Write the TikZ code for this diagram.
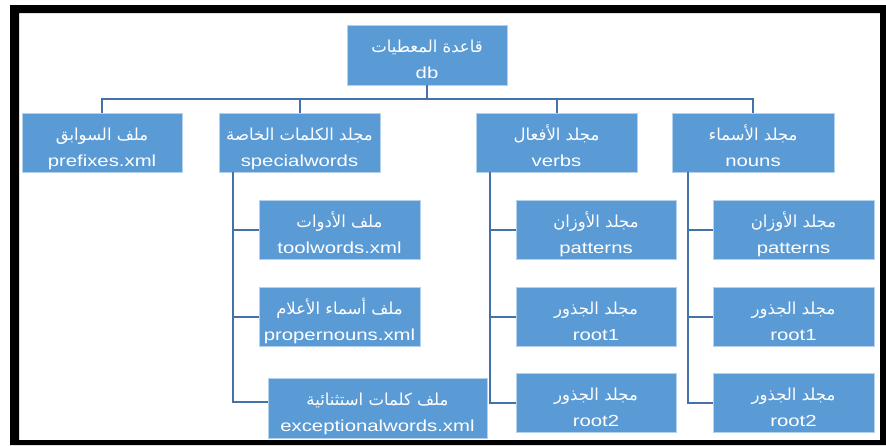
\documentclass[tikz,border=0pt]{standalone}
\usepackage{fontspec}
\setmainfont[FakeStretch=1.27]{Liberation Sans}
\newfontfamily\arfont[Script=Arabic]{DejaVu Sans}
\TeXXeTstate=1
\definecolor{boxblue}{HTML}{5B9BD5}
\definecolor{lineblue}{HTML}{4472A8}
\newcommand\bxt[2]{\rule{0pt}{27pt}{\arfont\fontsize{16.5}{26}\selectfont\beginR #1\endR}\\#2\rule[-6pt]{0pt}{6pt}}
\begin{document}
\begin{tikzpicture}[x=1pt,y=-1pt,
  box/.style={fill=boxblue, draw=white!55!boxblue, line width=0.8pt, text=white,
    align=center, inner sep=0pt, minimum width=160pt, minimum height=59pt,
    font=\fontsize{16}{26}\selectfont},
  conn/.style={draw=lineblue, line width=2pt}]
\useasboundingbox (0,0) rectangle (886,445);
\fill[white] (0,0) rectangle (886,445);
% level 0
\node[box, minimum height=60pt] (db) at (427,55) {\bxt{قاعدة المعطيات}{db}};
% level 1
\node[box] (prefixes) at (102,142.5) {\bxt{ملف السوابق}{prefixes.xml}};
\node[box, minimum width=161pt] (special) at (299.5,142.5) {\bxt{مجلد الكلمات الخاصة}{specialwords}};
\node[box, minimum width=161pt] (verbs) at (556.5,142.5) {\bxt{مجلد الأفعال}{verbs}};
\node[box, minimum width=162pt] (nouns) at (753,142.5) {\bxt{مجلد الأسماء}{nouns}};
% special words children
\node[box, minimum width=161pt] (toolwords) at (339.5,229.5) {\bxt{ملف الأدوات}{toolwords.xml}};
\node[box, minimum width=161pt] (propernouns) at (339.5,316.5) {\bxt{ملف أسماء الأعلام}{propernouns.xml}};
\node[box, minimum width=219pt, minimum height=60pt] (exceptional) at (377.5,408) {\bxt{ملف كلمات استثنائية}{exceptionalwords.xml}};
% verbs children
\node[box] (vpat) at (596,229.5) {\bxt{مجلد الأوزان}{patterns}};
\node[box] (vroot1) at (596,316.5) {\bxt{مجلد الجذور}{root1}};
\node[box] (vroot2) at (596,402.5) {\bxt{مجلد الجذور}{root2}};
% nouns children
\node[box, minimum width=161pt] (npat) at (793.5,229.5) {\bxt{مجلد الأوزان}{patterns}};
\node[box, minimum width=161pt] (nroot1) at (793.5,316.5) {\bxt{مجلد الجذور}{root1}};
\node[box, minimum width=161pt] (nroot2) at (793.5,402.5) {\bxt{مجلد الجذور}{root2}};
% top bus
\coordinate (bus) at (427,99);
\draw[conn] (db.south) -- (db.south |- bus);
\draw[conn] (prefixes.north) |- (bus) -| (nouns.north);
\draw[conn] (special.north) -- (special.north |- bus);
\draw[conn] (verbs.north) -- (verbs.north |- bus);
% spines
\draw[conn] ([xshift=14pt]special.south west) |- (toolwords.west);
\draw[conn] ([xshift=14pt]special.south west) |- (propernouns.west);
\draw[conn] ([xshift=14pt]special.south west) |- ([yshift=6pt]exceptional.west);
\draw[conn] ([xshift=14pt]verbs.south west) |- (vpat.west);
\draw[conn] ([xshift=14pt]verbs.south west) |- (vroot1.west);
\draw[conn] ([xshift=14pt]verbs.south west) |- (vroot2.west);
\draw[conn] ([xshift=16pt]nouns.south west) |- (npat.west);
\draw[conn] ([xshift=16pt]nouns.south west) |- (nroot1.west);
\draw[conn] ([xshift=16pt]nouns.south west) |- (nroot2.west);
% frame
\fill[black, even odd rule] (10,5) rectangle (886,445) (19,13) rectangle (880,440);
\end{tikzpicture}
\end{document}
